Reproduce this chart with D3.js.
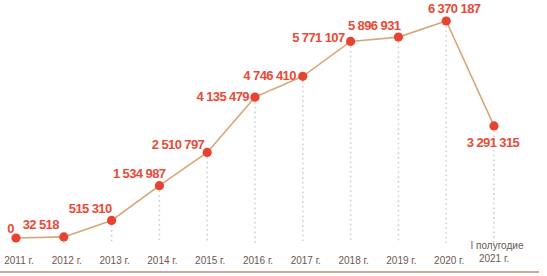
<!DOCTYPE html>
<html>
<head>
<meta charset="utf-8">
<script src="https://cdn.jsdelivr.net/npm/d3@7"></script>
<style>
  html, body { margin: 0; padding: 0; background: #fff; }
  svg { display: block; }
</style>
</head>
<body>
<div id="chart"></div>
<script>
'use strict';

var years = ['2011 г.', '2012 г.', '2013 г.', '2014 г.', '2015 г.', '2016 г.', '2017 г.', '2018 г.', '2019 г.', '2020 г.', 'I полугодие|2021 г.'];
var values = [0, 32518, 515310, 1534987, 2510797, 4135479, 4746410, 5771107, 5896931, 6370187, 3291315];

// label placement: [anchor, dx, dy]
var labelPos = [
  ['end', -2, -5], ['end', -5, -8], ['end', 0, -7], ['end', 6, -8],
  ['end', -3, -3], ['end', -6, 4], ['end', -7, 4], ['end', -6, 1],
  ['end', 2, -7], ['middle', 8, -8], ['middle', -1, 21]
];

var width = 547, height = 276;
var fmt = function(v) { return d3.format(',')(v).replace(/,/g, ' '); };

var svg = d3.select('#chart').append('svg')
  .attr('width', width)
  .attr('height', height);

var x = d3.scalePoint()
  .domain(years)
  .range([16, 494]);

var y = d3.scaleLinear()
  .domain([0, d3.max(values)])
  .range([238, 21]);

var data = years.map(function(d, i) { return {key: d, value: values[i], i: i}; });

// dotted drop lines
svg.append('g').selectAll('line')
  .data(data.filter(function(d) { return d.i > 0; }))
  .enter().append('line')
    .attr('x1', function(d) { return x(d.key); })
    .attr('x2', function(d) { return x(d.key); })
    .attr('y1', function(d) { return y(d.value); })
    .attr('y2', 243)
    .style('stroke', '#cfcfcf')
    .style('stroke-width', 1.6)
    .style('stroke-dasharray', '1.6,3.2');

var line = d3.line()
  .x(function(d) { return x(d.key); })
  .y(function(d) { return y(d.value); });

svg.append('path')
  .datum(data)
  .attr('d', line)
  .style('fill', 'none')
  .style('stroke', '#d9a679')
  .style('stroke-width', 1.6);

svg.append('g').selectAll('circle')
  .data(data)
  .enter().append('circle')
    .attr('cx', function(d) { return x(d.key); })
    .attr('cy', function(d) { return y(d.value); })
    .attr('r', 4.6)
    .style('fill', '#e8432f');

svg.append('g').selectAll('text')
  .data(data)
  .enter().append('text')
    .attr('x', function(d) { return x(d.key) + labelPos[d.i][1]; })
    .attr('y', function(d) { return y(d.value) + labelPos[d.i][2]; })
    .attr('text-anchor', function(d) { return labelPos[d.i][0]; })
    .style('font-family', 'Liberation Sans, Arial, sans-serif')
    .style('font-weight', 'bold')
    .style('font-size', '13px')
    .style('letter-spacing', '-0.6px')
    .style('fill', '#e84a38')
    .text(function(d) { return fmt(d.value); });

// x axis labels
var xl = svg.append('g').selectAll('text')
  .data(years)
  .enter().append('text')
    .attr('x', function(d) { return x(d); })
    .attr('y', function(d) { return d.indexOf('|') >= 0 ? 249 : 264; })
    .attr('text-anchor', 'middle')
    .style('font-family', 'Liberation Sans Narrow, Liberation Sans, Arial, sans-serif')
    .style('font-size', '10px')
    .style('fill', '#6a5850');

xl.each(function(d) {
  var parts = d.split('|');
  var t = d3.select(this);
  parts.forEach(function(p, k) {
    t.append('tspan')
      .attr('x', x(d) + (k === 0 ? 3 : 0))
      .attr('dy', k === 0 ? 0 : 13)
      .text(p);
  });
});

svg.append('line')
  .attr('x1', 0)
  .attr('x2', 539)
  .attr('y1', 272)
  .attr('y2', 272)
  .style('stroke', '#c9a99b')
  .style('stroke-width', 2);
</script>
</body>
</html>
